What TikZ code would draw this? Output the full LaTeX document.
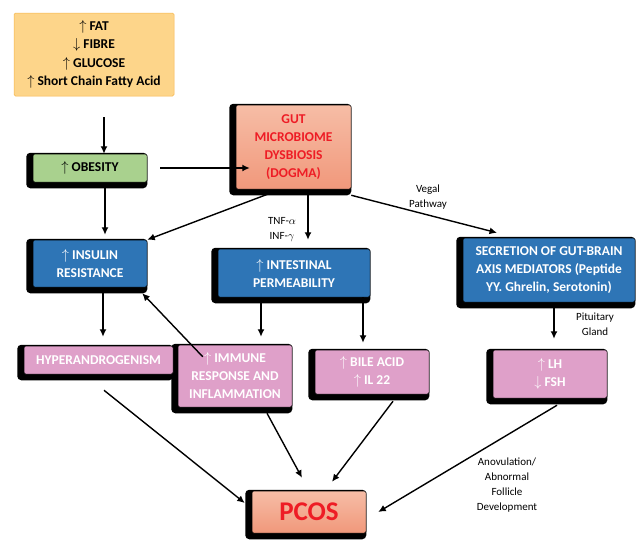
\documentclass[tikz,border=0pt]{standalone}
\usepackage{fontspec}
\setmainfont{Carlito}
\usepackage{xcolor}
\usepackage{tikz}
\usetikzlibrary{arrows.meta,backgrounds}
\definecolor{dietfill}{HTML}{FDD58A}
\definecolor{dietline}{HTML}{F6B54A}
\definecolor{obesegreen}{HTML}{A9D18E}
\definecolor{boxblue}{HTML}{2E75B6}
\definecolor{boxpink}{HTML}{DFA0C9}
\definecolor{salmontop}{HTML}{F6BDA6}
\definecolor{salmonbot}{HTML}{F1987B}
\definecolor{dogmared}{HTML}{EE1C25}

\begin{document}
\begin{tikzpicture}[x=1pt,y=-1pt,
  BoxStyle/.style={draw=black,line width=0.5pt,rounded corners=1.5pt,inner sep=0pt,align=center,
    font=\bfseries\fontsize{13.5}{18}\selectfont},
  BlueBox/.style={BoxStyle,fill=boxblue,text=white},
  PinkBox/.style={BoxStyle,fill=boxpink,text=white},
  SalmonBox/.style={BoxStyle,top color=salmontop,bottom color=salmonbot,text=dogmared},
  EdgeArrow/.style={line width=1.4pt,-{Latex[length=7.5pt,width=7pt]}},
  LabelStyle/.style={align=center,inner sep=0pt,font=\fontsize{11}{15}\selectfont}]
\useasboundingbox (0,0) rectangle (639,539);

\node[BoxStyle,draw=dietline,fill=dietfill,minimum width=160pt,minimum height=83pt,
  font=\bfseries\fontsize{13.5}{18.5}\selectfont] (diet) at (94,54.5)
  {$\uparrow$ FAT\\$\downarrow$ FIBRE\\$\uparrow$ GLUCOSE\\$\uparrow$ Short Chain Fatty Acid};
\node[BoxStyle,fill=obesegreen,minimum width=114pt,minimum height=28pt] (obesity) at (90,168) {$\uparrow$ OBESITY};
\node[SalmonBox,minimum width=115pt,minimum height=84pt] (gut) at (293.5,147) {GUT\\MICROBIOME\\DYSBIOSIS\\(DOGMA)};
\node[BlueBox,minimum width=114pt,minimum height=47pt] (insulin) at (90,263.5) {$\uparrow$ INSULIN\\RESISTANCE};
\node[BlueBox,minimum width=152pt,minimum height=48pt] (intestinal) at (294,273) {$\uparrow$ INTESTINAL\\PERMEABILITY};
\node[BlueBox,minimum width=172pt,minimum height=64pt] (secretion) at (549,270)
  {SECRETION OF GUT-BRAIN\\AXIS MEDIATORS (Peptide\\YY. Ghrelin, Serotonin)};
\node[PinkBox,minimum width=149pt,minimum height=28pt] (hyper) at (98.5,360) {HYPERANDROGENISM};
\node[PinkBox,minimum width=114pt,minimum height=62pt] (immune) at (235,376) {$\uparrow$ IMMUNE\\RESPONSE AND\\INFLAMMATION};
\node[PinkBox,minimum width=114pt,minimum height=44pt] (bile) at (372,372) {$\uparrow$ BILE ACID\\$\uparrow$ IL 22};
\node[PinkBox,minimum width=114pt,minimum height=48pt] (lh) at (550,374) {$\uparrow$ LH\\$\downarrow$ FSH};
\node[SalmonBox,minimum width=114pt,minimum height=42pt,font=\bfseries\fontsize{27}{30}\selectfont] (pcos) at (309,512) {PCOS};

\begin{scope}[on background layer]
\foreach \n in {obesity,gut,insulin,intestinal,secretion,hyper,immune,bile,lh,pcos}
  \fill[black,rounded corners=4pt] ([xshift=-6.5pt,yshift=1pt]\n.north west) rectangle ([yshift=-6pt]\n.south east);
\end{scope}

\node[LabelStyle] (tnf) at (282,229.5) {TNF-$\alpha$\\INF-$\gamma$};
\node[LabelStyle] (vegal) at (428,197) {Vegal\\Pathway};
\node[LabelStyle] (pituitary) at (595,324.5) {Pituitary\\Gland};
\node[LabelStyle] (anovulation) at (507,485.5) {Anovulation/\\Abnormal\\Follicle\\Development};

\draw[EdgeArrow,shorten <=21pt] ([xshift=10pt]diet.south) -- ([xshift=14pt]obesity.north);
\draw[EdgeArrow,shorten <=13pt,shorten >=-14pt] (obesity.east) -- (obesity.east -| gut.west);
\draw[EdgeArrow,shorten <=5pt,shorten >=5pt] ([xshift=15pt]obesity.south) -- ([xshift=15pt]insulin.north);
\draw[EdgeArrow] ([xshift=-26pt,yshift=-5pt]gut.south) -- (insulin.north east);
\draw[EdgeArrow,shorten <=5pt,shorten >=9pt] ([xshift=14.5pt]gut.south) -- ([xshift=14pt]intestinal.north);
\draw[EdgeArrow] ([yshift=-6pt]gut.south east) -- ([xshift=-52pt,yshift=5pt]secretion.north);
\draw[EdgeArrow,shorten <=6pt,shorten >=9pt] ([xshift=13pt]insulin.south) -- ([xshift=4.5pt]hyper.north);
\draw[EdgeArrow] ([xshift=25pt,yshift=-12pt]immune.north west) -- ([xshift=-5pt,yshift=-6pt]insulin.south east);
\draw[EdgeArrow,shorten <=6pt,shorten >=8pt] ([xshift=-33pt]intestinal.south) -- ([xshift=26pt]immune.north);
\draw[EdgeArrow,shorten >=7pt] ([xshift=69pt]intestinal.south) -- ([xshift=-9pt]bile.north);
\draw[EdgeArrow,shorten <=5pt,shorten >=11pt] ([xshift=5pt]secretion.south) -- ([xshift=4pt]lh.north);
\draw[EdgeArrow] ([xshift=5.5pt,yshift=-16pt]hyper.south) -- ([xshift=-7pt,yshift=9pt]pcos.west);
\draw[EdgeArrow] ([xshift=32pt,yshift=-6pt]immune.south) -- ([xshift=-7pt,yshift=13pt]pcos.north);
\draw[EdgeArrow] ([xshift=21pt,yshift=-7pt]bile.south) -- ([xshift=23pt,yshift=9pt]pcos.north);
\draw[EdgeArrow] ([xshift=7pt,yshift=-7pt]lh.south) -- ([xshift=12pt]pcos.east);
\end{tikzpicture}
\end{document}
